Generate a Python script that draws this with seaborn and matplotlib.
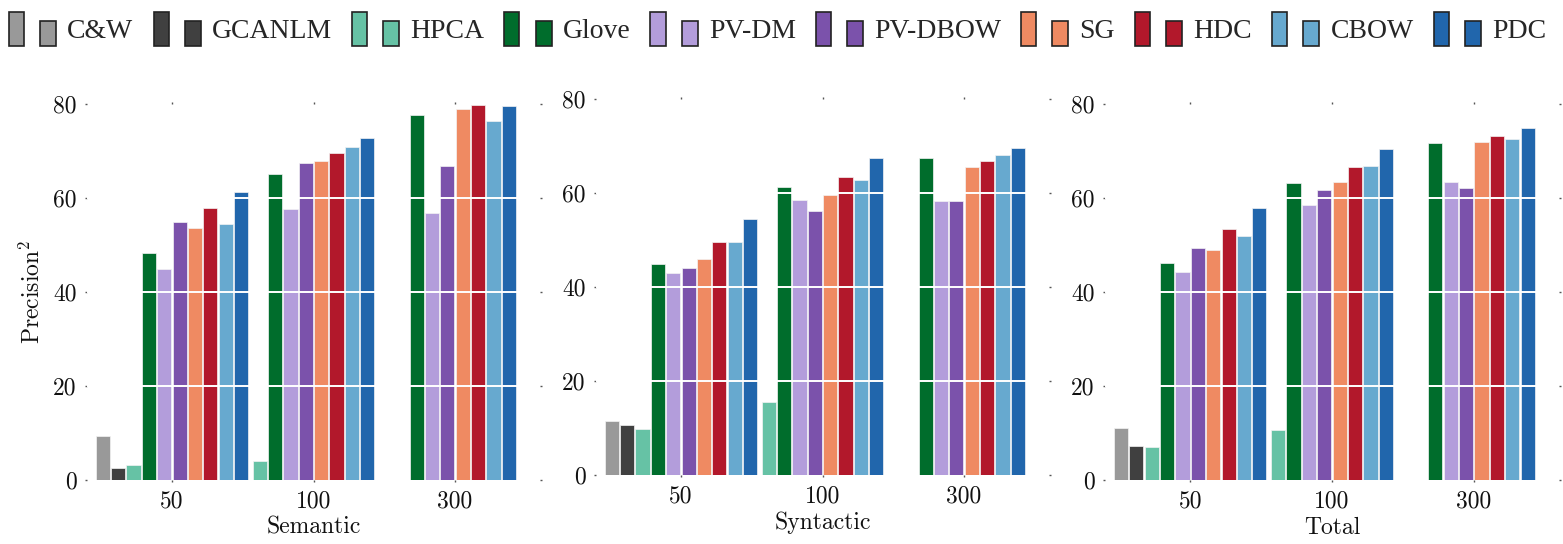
import numpy as np
import pandas as pd
import matplotlib
matplotlib.use("Agg")
import matplotlib.pyplot as plt
from matplotlib.patches import Patch, Rectangle
from matplotlib.legend_handler import HandlerBase
import seaborn as sns

methods = ["C&W", "GCANLM", "HPCA", "Glove", "PV-DM", "PV-DBOW", "SG", "HDC", "CBOW", "PDC"]
colors = ["#999999", "#404040", "#66c2a5", "#006d2c", "#b39ddb",
          "#7b52ab", "#ef8a62", "#b2182b", "#67a9cf", "#2166ac"]
dims = ["50", "100", "300"]
panels = ["Semantic", "Syntactic", "Total"]

# methods reported at each dimension (HPCA keeps its slot at 300 but has no value)
methods_by_dim = {
    "50": methods,
    "100": methods[2:],
    "300": methods[2:],
}

# values in the order of methods_by_dim
semantic_50 = [9.4, 2.6, 3.2, 48.4, 45.0, 55.0, 53.7, 57.8, 54.4, 61.3]
semantic_100 = [4.0, 65.2, 57.6, 67.5, 67.8, 69.6, 70.8, 72.8]
semantic_300 = [np.nan, 77.6, 56.9, 66.8, 79.0, 79.8, 76.3, 79.6]

syntactic_50 = [11.4, 10.7, 9.7, 45.0, 43.0, 44.0, 46.0, 49.5, 49.5, 54.4]
syntactic_100 = [15.5, 61.2, 58.6, 56.1, 59.5, 63.5, 62.8, 67.4]
syntactic_300 = [np.nan, 67.5, 58.2, 58.2, 65.5, 66.9, 68.1, 69.5]

total_50 = [11.0, 7.2, 7.0, 46.2, 44.3, 49.3, 49.0, 53.4, 52.0, 57.9]
total_100 = [10.6, 63.1, 58.5, 61.6, 63.5, 66.7, 66.8, 70.4]
total_300 = [np.nan, 71.8, 63.4, 62.1, 72.0, 73.2, 72.5, 74.8]

values = {
    "Semantic": [semantic_50, semantic_100, semantic_300],
    "Syntactic": [syntactic_50, syntactic_100, syntactic_300],
    "Total": [total_50, total_100, total_300],
}

PITCH = 0.1085  # dodge step between bars inside a group

rows = []
for panel in panels:
    for g, dim in enumerate(dims):
        ms = methods_by_dim[dim]
        n = len(ms)
        for i, (m, v) in enumerate(zip(ms, values[panel][g])):
            rows.append({"panel": panel, "dim": dim, "method": m,
                         "pos": g + (i - (n - 1) / 2) * PITCH, "value": v})
df = pd.DataFrame(rows)

sns.set_style("white")
plt.rcParams["font.family"] = ["cmr10", "DejaVu Serif"]
plt.rcParams["mathtext.fontset"] = "cm"
plt.rcParams["axes.unicode_minus"] = False

palette = dict(zip(methods, colors))

fig = plt.figure(figsize=(15.63, 5.44), dpi=100)
W, H = 1563, 544
boxes = [(87, 104, 540, 480), (596, 99, 1049, 475), (1105, 104, 1559, 480)]

for panel, (x0, y0, x1, y1) in zip(panels, boxes):
    ax = fig.add_axes([x0 / W, 1 - y1 / H, (x1 - x0) / W, (y1 - y0) / H])
    sub = df[(df["panel"] == panel) & df["value"].notna()]
    sns.barplot(data=sub, x="pos", y="value", hue="method", hue_order=methods,
                palette=palette, native_scale=True, dodge=False, width=0.92,
                saturation=1, errorbar=None, legend=False, ax=ax,
                edgecolor="#f4f4f4", linewidth=0.5)
    for yv in [20, 40, 60]:
        ax.axhline(yv, color="white", lw=1.4, zorder=5)
    ax.set_xlim(-0.6, 2.6)
    ax.set_ylim(0, 80)
    ax.set_xticks([0, 1, 2])
    ax.set_xticklabels(dims)
    ax.set_yticks([0, 20, 40, 60, 80])
    for s in ax.spines.values():
        s.set_visible(False)
    ax.tick_params(axis="both", which="both", top=True, right=True, bottom=True, left=True,
                   labeltop=False, labelright=False, length=1.5, width=1.0,
                   color="#555555", labelsize=17, pad=6, labelcolor="#111111")
    ax.set_xlabel(panel, fontsize=17, labelpad=3, color="#111111")
    if panel == "Semantic":
        ax.set_ylabel("Precision$^2$", fontsize=17, labelpad=6, color="#111111")
    else:
        ax.set_ylabel("")


class TwoBarHandler(HandlerBase):
    def create_artists(self, legend, orig_handle, xdescent, ydescent,
                       width, height, fontsize, trans):
        fc = orig_handle.get_facecolor()
        tall = Rectangle((-xdescent, -ydescent), width * 0.32, height,
                         facecolor=fc, edgecolor="#222222", lw=1.2, transform=trans)
        short = Rectangle((-xdescent + width * 0.66, -ydescent), width * 0.34, height * 0.74,
                          facecolor=fc, edgecolor="#222222", lw=1.2, transform=trans)
        return [tall, short]


handles = [Patch(facecolor=c, label=m) for m, c in zip(methods, colors)]
fig.legend(handles=handles, labels=methods, loc="upper left",
           bbox_to_anchor=(9 / W, 1 - 12 / H), ncol=10, frameon=False,
           handler_map={Patch: TwoBarHandler()},
           prop={"family": "Liberation Serif", "size": 20},
           handlelength=1.7, handleheight=1.5, handletextpad=0.4,
           columnspacing=0.72, borderpad=0, borderaxespad=0)

fig.savefig("out.png", dpi=100)
